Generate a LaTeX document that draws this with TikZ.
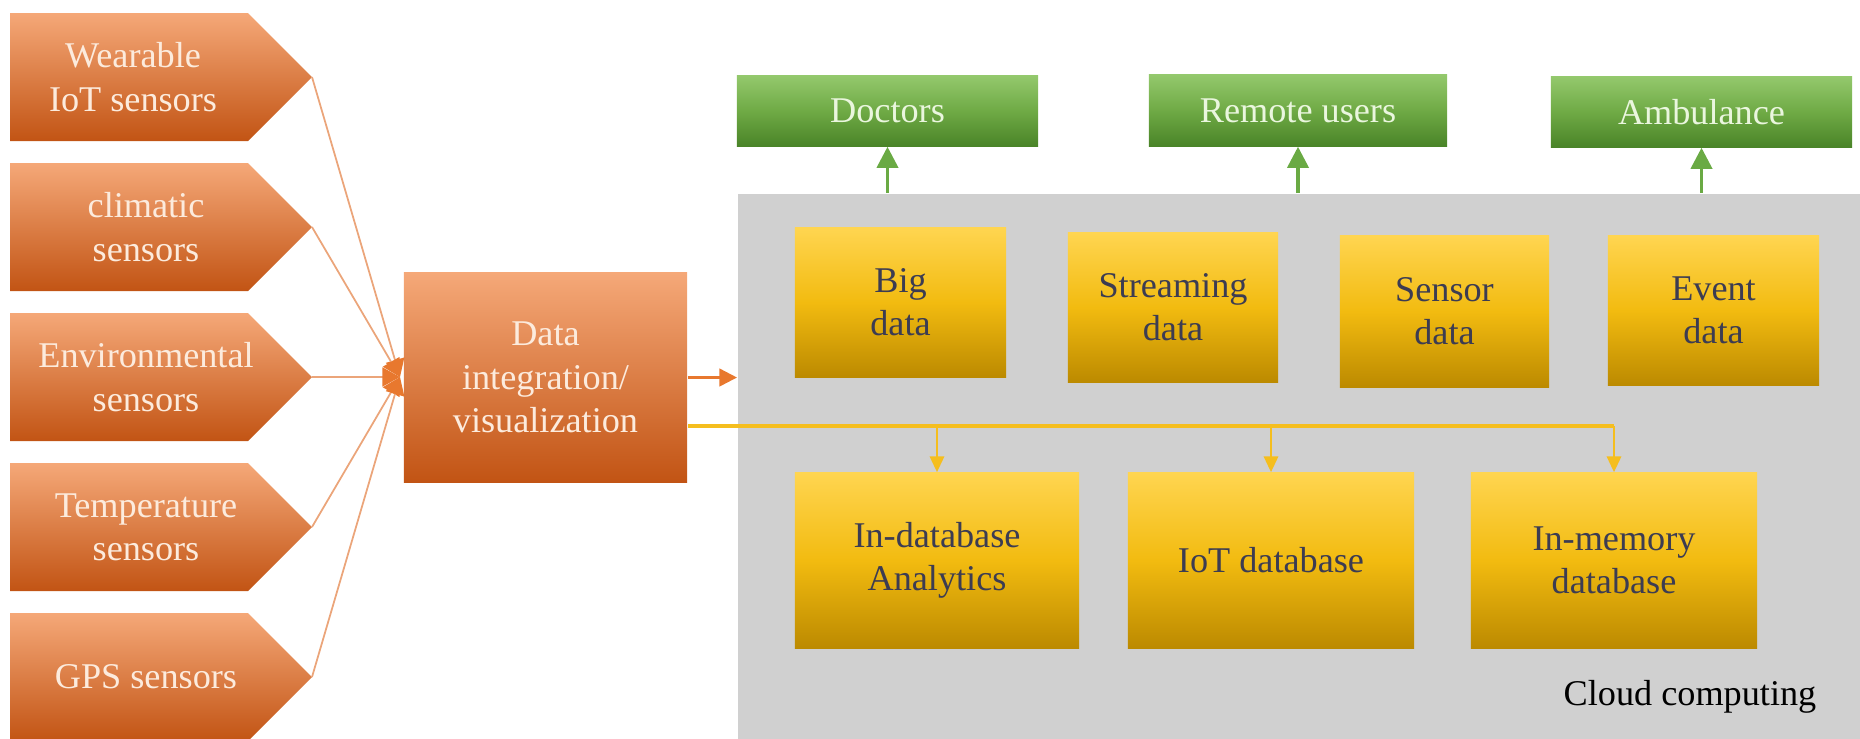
\documentclass[tikz,border=0pt]{standalone}
\usepackage{fontspec}
\setmainfont{Liberation Serif}
\usetikzlibrary{arrows.meta}

\definecolor{orTop}{HTML}{F5A878}
\definecolor{orMid}{HTML}{EC7C36}
\definecolor{orBot}{HTML}{C25414}
\definecolor{grTop}{HTML}{93C86C}
\definecolor{grMid}{HTML}{6FAA45}
\definecolor{grBot}{HTML}{4A8428}
\definecolor{yeTop}{HTML}{FFD550}
\definecolor{yeMid}{HTML}{F2BB10}
\definecolor{yeBot}{HTML}{BC8A00}
\definecolor{cloudGray}{HTML}{D0D0D0}
\definecolor{lightTxt}{HTML}{FCEBDD}
\definecolor{greenTxt}{HTML}{EAF6DE}
\definecolor{darkTxt}{HTML}{3C3C52}
\definecolor{feedLine}{HTML}{EBA57A}
\definecolor{hubOrange}{HTML}{E8782E}
\definecolor{busYellow}{HTML}{F5BE1E}
\definecolor{upGreen}{HTML}{6AAA44}

\begin{document}
\begin{tikzpicture}[x=0.01cm,y=-0.01cm,
  lbl/.style={align=center,font=\fontsize{10.3}{12.3}\selectfont,inner sep=0pt},
  sensortext/.style={lbl,text=lightTxt},
  userbox/.style={lbl,text=greenTxt,rectangle,top color=grTop,bottom color=grBot,middle color=grMid},
  databox/.style={lbl,text=darkTxt,rectangle,top color=yeTop,bottom color=yeBot,middle color=yeMid},
  feed/.style={draw=feedLine,line width=0.5pt,-{Triangle[length=5pt,width=5.4pt,color=hubOrange,fill=hubOrange]}},
  upArrow/.style={draw=upGreen,line width=1pt,-{Triangle[length=6pt,width=6pt]}},
  downArrow/.style={draw=busYellow,line width=0.8pt,-{Triangle[length=4.5pt,width=4pt]}},
]
\useasboundingbox (0,0) rectangle (1860,738);

% sensor pentagons on the left
\foreach \c/\tx/\name/\txt in {
    77/133/s1/{Wearable\\IoT sensors},
    227/146/s2/{climatic\\sensors},
    377/146/s3/{Environmental\\sensors},
    527/146/s4/{Temperature\\sensors},
    677/146/s5/{GPS sensors}}{
  \shade[top color=orTop,middle color=orMid,bottom color=orBot]
    (10,\c-64) -- (248,\c-64) -- (312,\c) -- (248,\c+64) -- (10,\c+64) -- cycle;
  \coordinate (\name tip) at (312,\c);
  \node[sensortext] (\name) at (\tx,\c) {\txt};
}

% integration box
\node[lbl,text=lightTxt,rectangle,top color=orTop,middle color=orMid,bottom color=orBot,
      minimum width=2.83cm,minimum height=2.09cm] (integ) at (545.5,377.5)
      {Data\\integration/\\visualization};
\coordinate (hub) at (400,377);
\foreach \name in {s1,s2,s3,s4,s5}
  \draw[feed] (\name tip) -- (hub);

% cloud area
\node[rectangle,fill=cloudGray,inner sep=0pt,minimum width=11.23cm,minimum height=5.45cm,
      anchor=north west] (cloud) at (737,193) {};
\node[lbl,text=black] (cloudlbl) at (1690,697) {Cloud computing};

% users on top
\node[userbox,minimum width=3.01cm,minimum height=0.70cm] (doc) at (887.5,111) {Doctors};
\node[userbox,minimum width=2.98cm,minimum height=0.71cm] (rem) at (1298,110.5) {Remote users};
\node[userbox,minimum width=3.01cm,minimum height=0.70cm] (amb) at (1701.5,112) {Ambulance};
\foreach \u in {doc,rem,amb}
  \draw[upArrow] (\u.south |- cloud.north) -- (\u.south);

% data kinds
\node[databox,minimum width=2.11cm,minimum height=1.49cm] (big) at (900.5,302.5) {Big\\data};
\node[databox,minimum width=2.10cm,minimum height=1.49cm] (stream) at (1173,307.5) {Streaming\\data};
\node[databox,minimum width=2.09cm,minimum height=1.51cm] (sens) at (1444.5,311.5) {Sensor\\data};
\node[databox,minimum width=2.11cm,minimum height=1.49cm] (event) at (1713.5,310.5) {Event\\data};

% storage / analytics
\node[databox,minimum width=2.84cm,minimum height=1.75cm] (indb) at (937,560.5) {In-database\\Analytics};
\node[databox,minimum width=2.86cm,minimum height=1.75cm] (iotdb) at (1271,560.5) {IoT database};
\node[databox,minimum width=2.86cm,minimum height=1.75cm] (inmem) at (1614,560.5) {In-memory\\database};

% integration output into the cloud
\draw[draw=hubOrange,line width=0.7pt,-{Triangle[length=5pt,width=5pt]}]
  (integ.east) -- (integ.east -| cloud.west);

% distribution bus to the databases
\coordinate (busL) at (integ.east |- 0,426);
\coordinate (busR) at (inmem.north |- 0,426);
\draw[draw=busYellow,line width=1.1pt] (busL) -- (busR);
\foreach \d in {indb,iotdb,inmem}
  \draw[downArrow] (\d.north |- busL) -- (\d.north);
\end{tikzpicture}
\end{document}
